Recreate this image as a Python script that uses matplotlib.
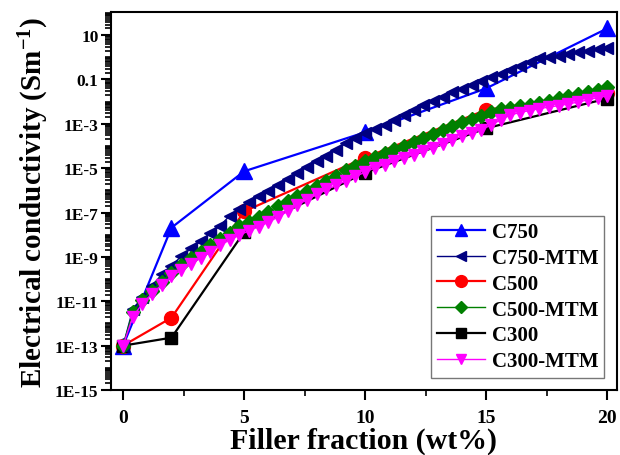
import numpy as np
import matplotlib
matplotlib.use('Agg')
import matplotlib.pyplot as plt
from matplotlib.ticker import LogLocator, FixedLocator, FixedFormatter, MultipleLocator, NullFormatter

plt.rcParams['font.family'] = ['Liberation Serif', 'DejaVu Serif']
plt.rcParams['font.weight'] = 'bold'
plt.rcParams['mathtext.fontset'] = 'custom'
plt.rcParams['mathtext.rm'] = 'Liberation Serif:bold'
plt.rcParams['mathtext.it'] = 'Liberation Serif:bold:italic'
plt.rcParams['mathtext.bf'] = 'Liberation Serif:bold'

# measured samples (log10 of conductivity, S/m)
x_pts = [0, 2, 5, 10, 15, 20]
c750 = [-13.0, -7.68, -5.14, -3.38, -1.40, 1.30]
c500 = [-13.0, -11.74, -6.95, -4.52, -2.37, -1.59]
c300 = [-13.0, -12.64, -7.88, -5.20, -3.20, -1.86]

# model curves, 0.4 wt% steps
x_mtm = np.linspace(0, 20, 51)
c750_mtm = [-13.0, -11.37, -10.79, -10.29, -9.79, -9.39, -8.98, -8.62, -8.30, -7.94,
            -7.60, -7.15, -6.82, -6.54, -6.27, -6.02, -5.76, -5.50, -5.20, -4.93,
            -4.69, -4.43, -4.16, -3.88, -3.62, -3.40, -3.24, -3.06, -2.82, -2.60,
            -2.38, -2.16, -1.98, -1.77, -1.58, -1.42, -1.24, -1.08, -0.90, -0.74,
            -0.56, -0.38, -0.20, -0.05, 0.02, 0.08, 0.15, 0.23, 0.29, 0.36, 0.44]
c500_mtm = [-13.0, -11.50, -10.92, -10.52, -10.11, -9.72, -9.38, -9.07, -8.78, -8.48,
            -8.18, -7.90, -7.62, -7.42, -7.18, -6.96, -6.72, -6.50, -6.27, -6.05,
            -5.80, -5.56, -5.33, -5.10, -4.90, -4.69, -4.48, -4.30, -4.15, -4.00,
            -3.80, -3.62, -3.46, -3.26, -3.10, -2.94, -2.80, -2.65, -2.47, -2.34,
            -2.27, -2.19, -2.13, -2.05, -1.96, -1.83, -1.74, -1.65, -1.56, -1.46, -1.34]
c300_mtm = [-13.0, -11.70, -11.10, -10.65, -10.25, -9.88, -9.60, -9.32, -9.06, -8.78,
            -8.48, -8.24, -8.02, -7.82, -7.64, -7.44, -7.20, -6.95, -6.66, -6.42,
            -6.18, -5.96, -5.78, -5.58, -5.37, -5.18, -4.98, -4.84, -4.69, -4.52,
            -4.40, -4.24, -4.08, -3.93, -3.72, -3.56, -3.40, -3.26, -3.06, -2.82,
            -2.60, -2.49, -2.40, -2.32, -2.24, -2.18, -2.10, -2.02, -1.92, -1.82, -1.74]

ytick_vals = [1e1, 1e-1, 1e-3, 1e-5, 1e-7, 1e-9, 1e-11, 1e-13, 1e-15]
ytick_labels = ['10', '0.1', '1E-3', '1E-5', '1E-7', '1E-9', '1E-11', '1E-13', '1E-15']


def pw(v):
    return 10.0 ** np.asarray(v)


fig = plt.figure(figsize=(6.2, 4.56), dpi=100, facecolor='white')
ax = fig.add_axes([0.179, 0.1425, 0.816, 0.829])

ax.plot(x_pts, pw(c750), '-^', color='#0000FF', lw=1.6, ms=11, label='C750', zorder=3)
ax.plot(x_mtm, pw(c750_mtm), '-<', color='#000080', lw=1, ms=9, label='C750-MTM', zorder=4)
ax.plot(x_pts, pw(c500), '-o', color='#FF0000', lw=1.6, ms=10, label='C500', zorder=3)
ax.plot(x_mtm, pw(c500_mtm), '-D', color='#008000', lw=1, ms=7, label='C500-MTM', zorder=4)
ax.plot(x_pts, pw(c300), '-s', color='black', lw=1.6, ms=8, label='C300', zorder=3)
ax.plot(x_mtm, pw(c300_mtm), '-v', color='#FF00FF', lw=1, ms=9, label='C300-MTM', zorder=4)

ax.set_yscale('log')
ax.set_xlim(-0.5, 20.4)
ax.set_ylim(1e-15, 110)

ax.xaxis.set_major_locator(MultipleLocator(5))
ax.xaxis.set_minor_locator(MultipleLocator(2.5))
ax.yaxis.set_major_locator(FixedLocator(ytick_vals))
ax.yaxis.set_major_formatter(FixedFormatter(ytick_labels))
ax.yaxis.set_minor_locator(LogLocator(base=10, subs=np.arange(1, 10), numticks=100))
ax.yaxis.set_minor_formatter(NullFormatter())

ax.tick_params(axis='both', which='major', direction='out', length=7, width=1.5)
ax.tick_params(axis='both', which='minor', direction='out', length=4, width=1.2)
ax.tick_params(axis='x', labelsize=14, pad=7)
ax.tick_params(axis='y', labelsize=12.5, pad=2)
for lab in ax.get_xticklabels() + ax.get_yticklabels():
    lab.set_fontweight('bold')
for sp in ax.spines.values():
    sp.set_linewidth(1.5)

ax.set_xlabel('Filler fraction (wt%)', fontsize=21.5, fontweight='bold', labelpad=0)
ax.set_ylabel(r'Electrical conductivity (Sm$^{-1}$)', fontsize=21, fontweight='bold', labelpad=3)

leg = ax.legend(loc='lower right', fontsize=15, frameon=True, fancybox=False,
                edgecolor='#555555', handlelength=2.3, handletextpad=0.3,
                labelspacing=0.28, borderpad=0.3, borderaxespad=0.6, numpoints=1,
                markerscale=0.85)
leg.get_frame().set_linewidth(1.0)
for t in leg.get_texts():
    t.set_fontweight('bold')

fig.savefig('out.png', dpi=100, facecolor='white')
